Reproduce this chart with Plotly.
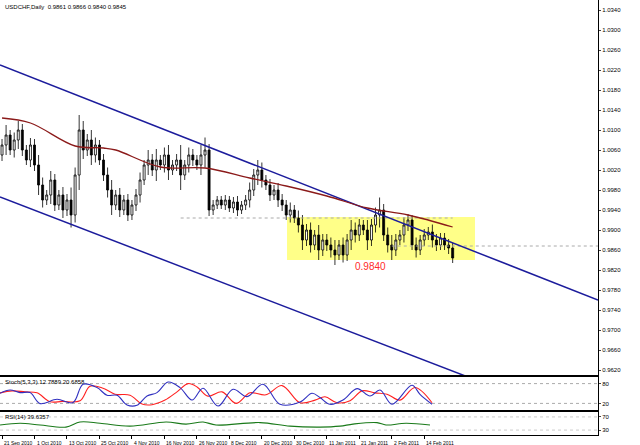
import plotly.graph_objects as go
from plotly.subplots import make_subplots

closes = [1.0070,1.0090,1.0060,1.0080,1.0100,1.0060,1.0040,1.0070,
          1.0030,0.9990,0.9960,0.9970,
          1.0000,0.9950,0.9970,0.9940,0.9960,0.9930,
          1.0010,1.0100,1.0060,
          1.0080,1.0050,1.0070,1.0040,
          1.0010,0.9980,0.9950,0.9970,
          0.9940,0.9960,0.9930,0.9950,0.9970,
          1.0000,1.0030,1.0040,1.0020,
          1.0040,1.0030,1.0050,1.0020,1.0030,
          1.0040,1.0010,1.0030,1.0050,1.0040,
          1.0030,1.0050,1.0060,
          0.9940,0.9950,0.9960,
          0.9950,0.9960,0.9944,0.9956,0.9940,0.9950,0.9960,
          0.9980,1.0010,1.0020,1.0000,
          0.9990,0.9970,0.9980,0.9960,
          0.9950,0.9930,0.9940,0.9924,
          0.9910,0.9880,0.9900,0.9870,0.9890,0.9860,0.9880,
          0.9870,0.9860,0.9850,0.9870,0.9850,0.9880,0.9900,
          0.9890,0.9910,0.9900,0.9880,0.9910,0.9930,0.9940,
          0.9890,0.9870,0.9860,0.9880,
          0.9890,0.9910,0.9920,0.9870,0.9860,0.9880,
          0.9890,0.9896,0.9880,0.9870,0.9884,0.9870,0.9864,0.9844]
first_open = 1.0050
wicks = [0.0012,0.0020,0.0010,0.0015,0.0018,0.0012,0.0010,0.0014,
         0.0012,0.0020,0.0015,0.0010,
         0.0018,0.0012,0.0010,0.0016,0.0012,0.0025,
         0.0015,0.0030,0.0018,
         0.0012,0.0020,0.0015,0.0010,
         0.0012,0.0015,0.0020,0.0010,
         0.0014,0.0010,0.0012,0.0010,0.0012,
         0.0015,0.0010,0.0020,0.0012,
         0.0022,0.0010,0.0015,0.0020,0.0010,
         0.0012,0.0030,0.0010,0.0015,0.0012,
         0.0010,0.0020,0.0025,
         0.0012,0.0010,0.0008,
         0.0008,0.0010,0.0008,0.0010,0.0012,0.0008,0.0010,
         0.0015,0.0012,0.0020,0.0015,
         0.0010,0.0012,0.0010,0.0014,
         0.0012,0.0010,0.0015,0.0010,
         0.0015,0.0020,0.0012,0.0015,0.0010,0.0020,0.0012,
         0.0012,0.0015,0.0020,0.0010,0.0015,0.0012,0.0020,
         0.0015,0.0012,0.0010,0.0020,0.0012,0.0015,0.0025,
         0.0012,0.0015,0.0020,0.0012,
         0.0010,0.0015,0.0012,0.0010,0.0015,0.0010,
         0.0012,0.0010,0.0015,0.0012,0.0010,0.0010,0.0012,0.0010]

ma_idx = [0,7,18,25,28,39,50,61,70,80,90,100,111]
ma_val = [1.0124,1.0114,1.0068,1.0064,1.0060,1.0026,1.0024,1.0004,0.9988,0.9968,0.9944,0.9930,0.9906]

upper_x = [-0.5, 146.8]; upper_y = [1.0230, 0.9760]
lower_x = [-0.5, 146.8]; lower_y = [0.9966, 0.9506]

stk_px = [0,10,20,30,40,57,73,83,97,107,117,127,137,147,157,168,180,192,203,218,233,247,263,280,300,312,320,
          330,343,357,370,380,392,412,420,432]
stk_val = [50.6,60.6,52.7,52.7,19.4,32.4,22.4,77.9,67.9,44.5,44.5,15.2,14.2,42.4,52.7,84.8,67.9,30.3,65.8,12.1,62.7,40.6,77.9,17.3,24.2,50.6,37.6,
           17.3,30.3,64.8,42.4,60.6,17.3,74.8,47.6,17.3]
std_px = [0,12,25,37,50,62,80,90,103,115,130,142,152,165,177,188,197,208,222,236,250,266,282,300,315,325,
          337,350,362,375,387,400,415,432]
std_val = [52,58,55,52,25,26,28,72,66,48,45,18,16,30,55,80,70,42,55,20,52,46,74,22,30,40,
           22,28,58,52,48,30,68,22]
rsi_px = [0,20,40,66,80,100,130,166,186,203,216,260,290,320,340,353,377,386,406,430]
rsi_v = [45.4,50.9,45.4,39.1,54.6,50.9,41.9,54.6,48.2,54.6,45.4,52.8,41.9,39.1,41.9,48.2,52.8,45.4,50.9,45.4]

date_idx = [0,8,16,24,32,40,48,56,64,72,80,88,96,104]
date_lbl = ["21 Sep 2010","1 Oct 2010","13 Oct 2010","25 Oct 2010","4 Nov 2010","16 Nov 2010",
            "26 Nov 2010","8 Dec 2010","20 Dec 2010","30 Dec 2010","11 Jan 2011","21 Jan 2011",
            "2 Feb 2011","14 Feb 2011"]

opens = [first_open] + closes[:-1]
highs = [max(o, c) + w for o, c, w in zip(opens, closes, wicks)]
lows = [min(o, c) - w for o, c, w in zip(opens, closes, wicks)]
idx = list(range(len(closes)))

def px_to_idx(xs):
    return [(x - 2) / 4.06 for x in xs]

fig = make_subplots(rows=3, cols=1, shared_xaxes=True)
fig.add_shape(type="rect", x0=70.2, x1=116.5, y0=0.9840, y1=0.9926, fillcolor="#ffff88",
              line=dict(width=0), layer="below", row=1, col=1)
fig.add_trace(go.Scatter(x=[44, 111], y=[0.9924, 0.9924], mode="lines",
                         line=dict(color="#aaaaaa", width=1, dash="dot")), row=1, col=1)
fig.add_trace(go.Scatter(x=[96, 146.8], y=[0.9868, 0.9868], mode="lines",
                         line=dict(color="#aaaaaa", width=1, dash="dot")), row=1, col=1)
fig.add_trace(go.Scatter(x=upper_x, y=upper_y, mode="lines", line=dict(color="#1c1c9c", width=1.5)), row=1, col=1)
fig.add_trace(go.Scatter(x=lower_x, y=lower_y, mode="lines", line=dict(color="#1c1c9c", width=1.5)), row=1, col=1)
fig.add_trace(go.Candlestick(x=idx, open=opens, high=highs, low=lows, close=closes,
                             increasing=dict(fillcolor="white", line=dict(color="black", width=0.8)),
                             decreasing=dict(fillcolor="black", line=dict(color="black", width=0.8)),
                             whiskerwidth=0), row=1, col=1)
fig.add_trace(go.Scatter(x=ma_idx, y=ma_val, mode="lines", line=dict(color="#8b1a1a", width=1.3, shape="spline")), row=1, col=1)
fig.add_annotation(x=90.7, y=0.9828, text="0.9840", showarrow=False, font=dict(color="#ff2a2a", size=10),
                   row=1, col=1)

for lv in (80, 20):
    fig.add_trace(go.Scatter(x=[-0.5, 146.8], y=[lv, lv], mode="lines",
                             line=dict(color="#aaaaaa", width=1, dash="dot")), row=2, col=1)
fig.add_trace(go.Scatter(x=px_to_idx(std_px), y=std_val, mode="lines",
                         line=dict(color="#ff2020", width=1.1, shape="spline")), row=2, col=1)
fig.add_trace(go.Scatter(x=px_to_idx(stk_px), y=stk_val, mode="lines",
                         line=dict(color="#3030c0", width=1.1, shape="spline")), row=2, col=1)
for lv in (70, 30):
    fig.add_trace(go.Scatter(x=[-0.5, 146.8], y=[lv, lv], mode="lines",
                             line=dict(color="#cccccc", width=1, dash="dot")), row=3, col=1)
fig.add_trace(go.Scatter(x=px_to_idx(rsi_px), y=rsi_v, mode="lines",
                         line=dict(color="#1a7a1a", width=1.1, shape="spline")), row=3, col=1)

ax = dict(showgrid=False, zeroline=False, showline=True, linecolor="black", linewidth=1, mirror=True,
          range=[-0.5, 146.8])
fig.update_xaxes(**ax, rangeslider_visible=False, showticklabels=False, ticks="")
fig.update_xaxes(tickmode="array", tickvals=date_idx, ticks="outside", ticklen=3, tickcolor="black",
                 row=3, col=1)
for di, dl in zip(date_idx, date_lbl):
    fig.add_annotation(x=di, xref="x3", y=0, yref="paper", yshift=-3, xanchor="left", yanchor="top",
                       text=dl, showarrow=False, font=dict(size=5, color="black"))
yax = dict(showgrid=False, zeroline=False, showline=True, linecolor="black", linewidth=1, mirror=True,
           side="right", ticks="outside", ticklen=2, tickfont=dict(size=6, color="black"))
fig.update_yaxes(**yax, range=[0.961, 1.036], tickmode="array",
                 tickvals=[1.034 - 0.004 * k for k in range(19)],
                 tickformat=".4f", row=1, col=1)
fig.update_yaxes(**yax, range=[0, 100], tickvals=[20, 80], row=2, col=1)
fig.update_yaxes(**yax, range=[15, 85], tickvals=[30, 70], row=3, col=1)
H = 435.0
fig.update_layout(yaxis=dict(domain=[(H - 375) / H, 1]),
                  yaxis2=dict(domain=[(H - 410) / H, (H - 377) / H]),
                  yaxis3=dict(domain=[0, (H - 412) / H]))
fig.add_annotation(xref="paper", yref="paper", x=0.005, y=0.995, xanchor="left", yanchor="top",
                   text="USDCHF,Daily  0.9861 0.9866 0.9840 0.9845", showarrow=False,
                   font=dict(size=6, color="black"))
fig.add_annotation(xref="paper", yref="paper", x=0.005, y=(H - 377) / H, xanchor="left", yanchor="top",
                   text="Stoch(5,3,3) 12.7889 20.6858", showarrow=False, font=dict(size=6, color="black"))
fig.add_annotation(xref="paper", yref="paper", x=0.005, y=(H - 412) / H, xanchor="left", yanchor="top",
                   text="RSI(14) 39.6357", showarrow=False, font=dict(size=6, color="black"))
fig.update_layout(width=640, height=445, margin=dict(l=0, r=42, t=0, b=10), showlegend=False,
                  plot_bgcolor="white", paper_bgcolor="white", font=dict(family="Liberation Sans"))
fig.write_html("out.html", config={"displayModeBar": False},
               post_script="document.body.style.margin='0';document.body.style.overflow='hidden';")
